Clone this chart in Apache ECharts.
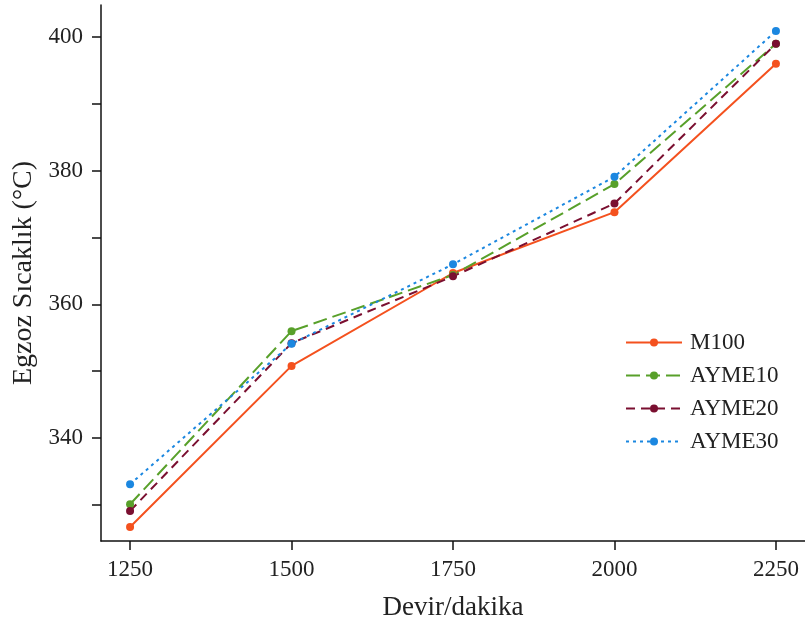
<!DOCTYPE html>
<html><head><meta charset="utf-8">
<script src="https://cdn.jsdelivr.net/npm/echarts@6/dist/echarts.min.js"></script>
<style>html,body{margin:0;padding:0;background:#fff}#c{width:805px;height:628px}</style>
</head><body><div id="c"></div>
<script>
const rpm = [1250, 1500, 1750, 2000, 2250];
const M100 = [326.7, 350.8, 364.7, 373.8, 396.0];
const AYME10 = [330.1, 356.0, 364.4, 378.0, 399.0];
const AYME20 = [329.1, 354.2, 364.2, 375.1, 399.0];
const AYME30 = [333.1, 354.1, 366.0, 379.1, 400.9];
const xTicks = [1250, 1500, 1750, 2000, 2250];
const yTicks = [330, 340, 350, 360, 370, 380, 390, 400];
const yLabels = [340, 360, 380, 400];

const font = 'Liberation Serif';
function mk(name, data, color, type) {
  return {
    name, type: 'line', data: rpm.map((x, i) => [x, data[i]]),
    symbol: 'circle', symbolSize: 8,
    itemStyle: { color },
    lineStyle: { color, width: 2, type },
    emphasis: { disabled: true }
  };
}
const chart = echarts.init(document.getElementById('c'), null, { renderer: 'canvas' });
chart.setOption({
  animation: false,
  backgroundColor: '#fff',
  grid: { left: 101, right: 0, top: 5, bottom: 87, outerBoundsMode: 'none', containLabel: false },
  xAxis: {
    type: 'value', min: 1205, max: 2295,
    name: 'Devir/dakika', nameLocation: 'middle', nameGap: 53,
    nameTextStyle: { fontFamily: font, fontSize: 27, color: '#222' },
    axisLine: { lineStyle: { color: '#111', width: 1.5 } },
    axisTick: { customValues: xTicks, length: 9, inside: false, lineStyle: { color: '#111', width: 1.5 } },
    axisLabel: { customValues: xTicks, formatter: v => String(v), fontFamily: font, fontSize: 23, color: '#222', margin: 17 },
    splitLine: { show: false }
  },
  yAxis: {
    type: 'value', min: 324.6, max: 404.8,
    name: 'Egzoz Sıcaklık (°C)', nameLocation: 'middle', nameGap: 57, nameRotate: 90,
    nameTextStyle: { fontFamily: font, fontSize: 28, color: '#222' },
    axisLine: { show: true, lineStyle: { color: '#111', width: 1.5 } },
    axisTick: { show: true, customValues: yTicks, length: 9, lineStyle: { color: '#111', width: 1.5 } },
    axisLabel: { customValues: yLabels, fontFamily: font, fontSize: 23, color: '#222', margin: 18 },
    splitLine: { show: false }
  },
  legend: {
    orient: 'vertical', left: 620, top: 326, itemWidth: 56, itemHeight: 10, itemGap: 10,
    textStyle: { fontFamily: font, fontSize: 23, color: '#222', padding: [0, 0, 0, 3] },
    data: ['M100', 'AYME10', 'AYME20', 'AYME30']
  },
  series: [
    mk('M100', M100, '#f4511e', 'solid'),
    mk('AYME10', AYME10, '#58a02a', [14, 6]),
    mk('AYME20', AYME20, '#7a0f30', [9, 6]),
    mk('AYME30', AYME30, '#1b87e0', [3, 4])
  ]
});
</script></body></html>
